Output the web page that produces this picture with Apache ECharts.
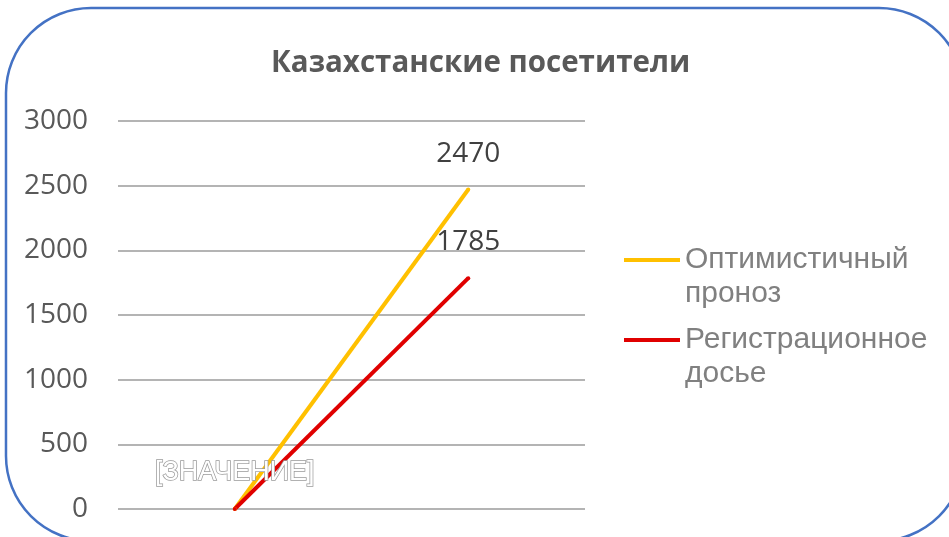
<!DOCTYPE html>
<html>
<head>
<meta charset="utf-8">
<script src="https://cdn.jsdelivr.net/npm/echarts@6/dist/echarts.min.js"></script>
<style>
    html, body { margin: 0; padding: 0; background: #fff; }
    #chart { width: 949px; height: 537px; }
</style>
</head>
<body>
<div id="chart"></div>
<script type="text/javascript">
    // данные графика
    let categories = ['1', '2'];
    let optimistic = [0, 2470];
    let registration = [0, 1785];
    let optimisticLabels = ['[ЗНАЧЕНИЕ]', '2470'];
    let registrationLabels = ['', '1785'];
    let legendNames = ['Оптимистичный проноз', 'Регистрационное досье'];
    let legendWrapped = {
        'Оптимистичный проноз': 'Оптимистичный\nпроноз',
        'Регистрационное досье': 'Регистрационное\nдосье'
    };

    function labelFor(list) {
        return function (p) { return list[p.dataIndex]; };
    }

    function legendFor(name, top) {
        return {
            orient: 'vertical',
            left: 624,
            top: top,
            padding: 0,
            data: [name],
            icon: 'rect',
            itemWidth: 56,
            itemHeight: 4,
            // пустая первая строка — чтобы линия стояла на уровне первой строки текста
            formatter: function (n) { return ' \n' + legendWrapped[n]; },
            textStyle: {
                fontFamily: 'Liberation Sans',
                fontSize: 30,
                lineHeight: 34,
                color: '#808080'
            }
        };
    }

    let labelFont = {
        fontFamily: 'Open Sans',
        fontSize: 28,
        color: '#404040'
    };

    let myChart = echarts.init(document.getElementById('chart'));
    let option = {
        backgroundColor: '#fff',
        animation: false,
        title: {
            text: 'Казахстанские посетители',
            left: 266,
            top: 44,
            textStyle: {
                fontFamily: 'Open Sans',
                fontSize: 29.5,
                fontWeight: 'bold',
                color: '#595959'
            }
        },
        graphic: [{
            type: 'rect',
            shape: {x: 6, y: 8, width: 958, height: 533, r: 85},
            style: {fill: 'none', stroke: '#4472C4', lineWidth: 2.5},
            z: 100
        }],
        legend: [legendFor(legendNames[0], 209), legendFor(legendNames[1], 289)],
        grid: {
            left: 118,
            right: 364,
            top: 121,
            bottom: 28
        },
        xAxis: {
            type: 'category',
            data: categories,
            boundaryGap: true,
            axisLine: {show: false},
            axisTick: {show: false},
            axisLabel: {show: false}
        },
        yAxis: {
            type: 'value',
            min: 0,
            max: 3000,
            interval: 500,
            axisLine: {show: false},
            axisTick: {show: false},
            splitLine: {lineStyle: {color: '#B4B4B4', width: 2}},
            axisLabel: {
                margin: 30,
                formatter: function (v) { return String(v); },
                fontFamily: 'Open Sans',
                fontSize: 28,
                color: '#595959'
            }
        },
        series: [
            {
                name: legendNames[0],
                type: 'line',
                data: optimistic,
                symbol: 'circle',
                symbolSize: 4,
                color: '#FFC000',
                lineStyle: {width: 4},
                label: Object.assign({
                    show: true,
                    position: 'top',
                    distance: 20,
                    formatter: labelFor(optimisticLabels)
                }, labelFont)
            },
            {
                name: legendNames[1],
                type: 'line',
                data: registration,
                symbol: 'circle',
                symbolSize: 4,
                color: '#E00000',
                lineStyle: {width: 4},
                label: Object.assign({
                    show: true,
                    position: 'top',
                    distance: 20,
                    formatter: labelFor(registrationLabels)
                }, labelFont)
            }
        ]
    };
    // подпись первой точки — контурный текст
    option.series[0].data = optimistic.map(function (v, i) {
        if (i === 0) {
            return {
                value: v,
                label: {
                    color: '#fff',
                    textBorderColor: '#9a9a9a',
                    textBorderWidth: 1.5,
                    fontFamily: 'Liberation Sans',
                    fontSize: 27,
                    distance: 21
                }
            };
        }
        return v;
    });
    myChart.setOption(option);
</script>
</body>
</html>
